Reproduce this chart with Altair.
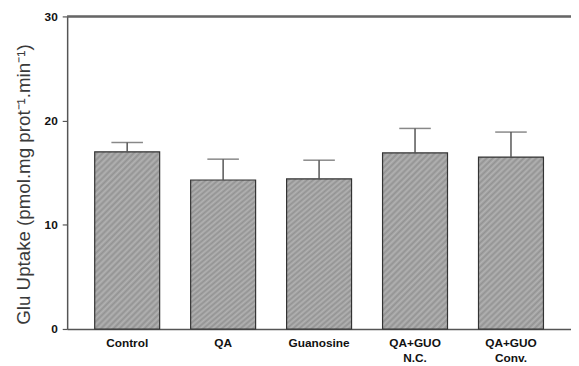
import altair as alt
import pandas as pd

groups = ["Control", "QA", "Guanosine", "QA+GUO N.C.", "QA+GUO Conv."]
means = [17.0, 14.3, 14.4, 16.9, 16.5]
errors = [0.9, 2.0, 1.8, 2.35, 2.4]

df = pd.DataFrame({"group": groups, "mean": means, "err": errors})
df["top"] = df["mean"] + df["err"]

FONT = "Liberation Sans"

# diagonal hatch approximated with a striped linear gradient
n_half = 78
stops = []
for k in range(n_half + 1):
    stops.append(alt.GradientStop(offset=k / n_half,
                                  color="#b2b2b2" if k % 2 == 0 else "#939393"))
hatch = alt.Gradient(gradient="linear", stops=stops, x1=0, y1=0, x2=0.442, y2=1.204)

x = alt.X("group:N", sort=groups, title=None,
          scale=alt.Scale(paddingInner=0.323, paddingOuter=0.287),
          axis=alt.Axis(labelExpr="split(datum.label, ' ')", labelAngle=0,
                        ticks=False, labelPadding=9, labelFontSize=12,
                        labelFontWeight="bold", labelColor="#111", labelFont=FONT,
                        labelLineHeight=15,
                        domainColor="#555", domainWidth=1.5))
y_scale = alt.Scale(domain=[0, 30], nice=False)

bars = alt.Chart(df).mark_bar(fill=hatch, stroke="#333", strokeWidth=1.2).encode(
    x=x,
    y=alt.Y("mean:Q", scale=y_scale,
            title="Glu Uptake (pmol.mg prot\u207b\u00b9.min\u207b\u00b9)",
            axis=alt.Axis(values=[0, 10, 20, 30], grid=False, tickSize=5,
                          tickColor="#555", tickWidth=1.2,
                          domainColor="#555", domainWidth=1.5,
                          labelPadding=5, labelFontSize=12, labelFontWeight="bold",
                          labelColor="#111", labelFont=FONT,
                          titleFont=FONT, titleFontSize=19, titleFontWeight="normal",
                          titleColor="#3a3a3a", titleX=-44, titleY=170,
                          titleAngle=-90, titleAlign="center", titleBaseline="middle")),
)

err_line = alt.Chart(df).mark_rule(color="#555", strokeWidth=1.5).encode(
    x=alt.X("group:N", sort=groups),
    y=alt.Y("mean:Q", scale=y_scale),
    y2="top:Q",
)

caps = alt.Chart(df).mark_tick(color="#555", thickness=1.5, size=32).encode(
    x=alt.X("group:N", sort=groups),
    y=alt.Y("top:Q", scale=y_scale),
)

top_line = alt.Chart(df).mark_rule(color="#666", strokeWidth=1.5).encode(
    y=alt.YDatum(30),
)

chart = alt.layer(bars, err_line, caps, top_line).properties(
    width=511, height=317,
    autosize=alt.AutoSizeParams(type="none"),
    padding={"left": 60, "top": 6, "right": 0, "bottom": 35},
    background="white",
).configure_view(stroke=None)

chart.save("out.html", embed_options={"renderer": "svg", "actions": False})
